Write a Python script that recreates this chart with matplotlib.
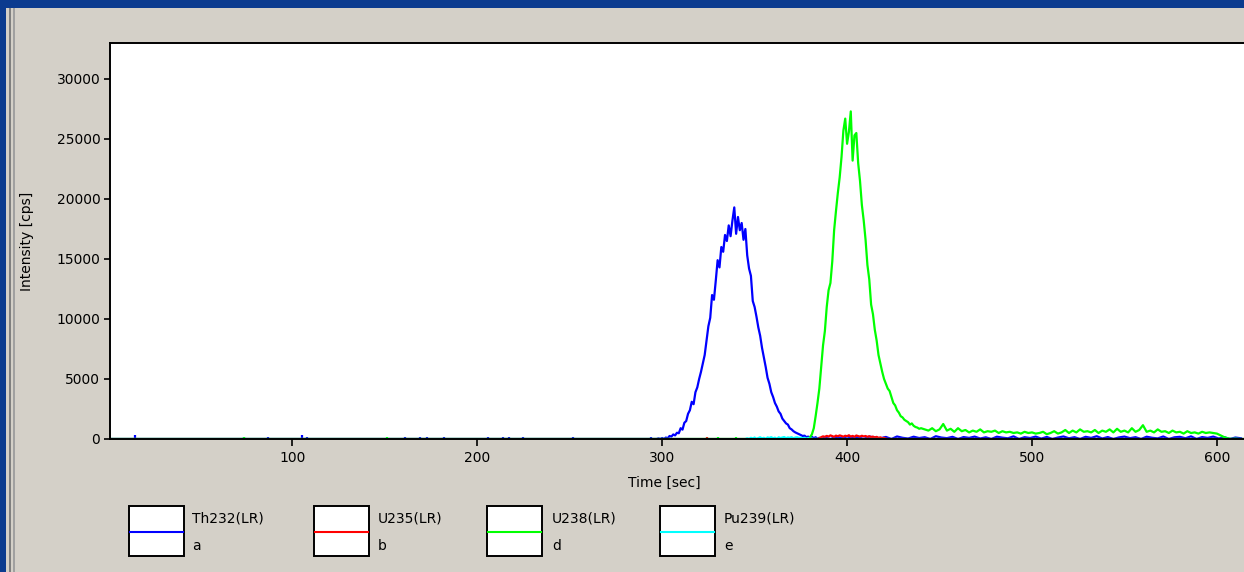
import numpy as np
import matplotlib
matplotlib.use("Agg")
import matplotlib.pyplot as plt
from matplotlib.patches import Rectangle
from matplotlib.lines import Line2D

W, H = 1244, 572

# --- data (time in s, intensity in cps) ---
# Th232: peak region sampled every 1 s from 296 s, then baseline every 3 s from 388 s
th232_peak_start = 296
th232_peak = [0, 0, 50, 0, 80, 0, 120, 60, 250, 200, 380, 300, 520, 480, 900, 780,
              1350, 1500, 2100, 2400, 3100, 2900, 3900, 4300, 5000, 5600, 6300, 7000,
              8200, 9400, 10100, 12000, 11600, 13200, 14900, 14300, 16000, 15600, 17000,
              16500, 17800, 16900, 18200, 19300, 17100, 18500, 17400, 18000, 16600, 17500,
              15300, 14200, 13600, 11500, 11000, 10200, 9300, 8600, 7600, 6800, 6000, 5100,
              4600, 3900, 3500, 3000, 2700, 2300, 2100, 1700, 1500, 1300, 1200, 900, 800,
              650, 550, 480, 400, 330, 250, 280, 150, 200, 100, 180, 60, 150, 0, 100, 0]
th232_tail_start = 388
th232_tail = [120, 0, 180, 60, 220, 90, 150, 0, 200, 130, 60, 170, 0, 210, 100, 40,
              190, 80, 150, 0, 230, 120, 70, 180, 0, 160, 90, 200, 40, 140, 0, 190, 110,
              60, 220, 0, 150, 80, 200, 30, 170, 0, 120, 210, 60, 150, 0, 180, 90, 230,
              40, 160, 0, 130, 200, 70, 150, 0, 190, 100, 50, 210, 0, 140, 180, 60, 220,
              0, 160, 90, 200, 40, 150, 0, 120, 60]
th232_spike_t = [15, 74, 87, 105, 108, 161, 169, 173, 182, 206, 214, 217, 225, 241, 252, 285, 294]
th232_spike_v = [350, 200, 150, 350, 200, 150, 180, 150, 150, 150, 180, 150, 150, 120, 150, 120, 150]

# U235: small hump next to U238
u235_start = 384
u235 = [0, 60, 150, 220, 180, 260, 200, 300, 240, 180, 280, 220, 300, 250, 190, 270,
        230, 310, 200, 260, 180, 290, 240, 200, 270, 210, 250, 180, 230, 160, 200, 120,
        180, 90, 140, 60, 100, 30, 0]
u235_spike_t = [324, 341]
u235_spike_v = [200, 100]

# U238: main peak every 1 s from 378 s, long tail every 2 s from 442 s
u238_peak_start = 378
u238_peak = [0, 60, 150, 400, 900, 1900, 3000, 4200, 6000, 7800, 9000, 11000, 12400,
             13000, 14800, 17400, 19000, 20500, 21800, 23500, 25700, 26700, 24600, 25600,
             27300, 23200, 25300, 25500, 23000, 21500, 19500, 18200, 16600, 14500, 13300,
             11200, 10400, 9100, 8200, 7000, 6300, 5600, 5000, 4600, 4200, 4000, 3500,
             3000, 2800, 2400, 2200, 1900, 1800, 1600, 1500, 1400, 1200, 1300, 1100, 1000,
             950, 850, 900]
u238_tail_start = 442
u238_tail = [800, 700, 900, 650, 800, 1250, 700, 850, 600, 900, 650, 750, 550, 700, 600,
             800, 550, 650, 600, 700, 500, 650, 550, 600, 500, 550, 450, 600, 500, 550,
             450, 500, 600, 400, 500, 650, 450, 550, 750, 500, 700, 550, 800, 600, 650,
             550, 750, 500, 700, 600, 800, 550, 850, 600, 700, 550, 900, 600, 750, 1150,
             600, 700, 550, 800, 600, 650, 500, 700, 550, 600, 450, 650, 500, 550, 450,
             600, 500, 550, 500, 450, 300, 150, 50, 0, 30, 0, 0]
u238_spike_t = [74, 151, 330, 340, 352, 355]
u238_spike_v = [200, 200, 150, 150, 100, 100]

# Pu239: barely above baseline
pu239_start = 345
pu239 = [0, 60, 0, 100, 40, 120, 0, 80, 140, 50, 100, 0, 130, 90, 150, 60, 110, 0, 140,
         80, 120, 160, 70, 130, 100, 150, 60, 120, 140, 90, 110, 60, 100, 30, 80, 0, 40,
         0, 20, 0]

names = ["Th232(LR)", "U235(LR)", "U238(LR)", "Pu239(LR)"]
codes = ["a", "b", "d", "e"]
colors = ["#0000ff", "#ff0000", "#00ff00", "#00ffff"]


def series(start, values, step=1):
  t = start + step * np.arange(len(values))
  return t, np.asarray(values, dtype=float)


def px(x, y):
  return x / W, 1 - y / H


bg = "#d4d0c8"
fig = plt.figure(figsize=(W / 100, H / 100), dpi=100, facecolor=bg)

# window frame
frame = fig.add_axes([0, 0, 1, 1], zorder=-5)
frame.set_xlim(0, W)
frame.set_ylim(H, 0)
frame.axis("off")
frame.add_patch(Rectangle((0, 0), W, 8, color="#0b3b8f", lw=0))
frame.add_patch(Rectangle((0, 0), 6, H, color="#0b3b8f", lw=0))
frame.add_patch(Rectangle((9, 8), 2, H, color="#808080", lw=0))
frame.add_patch(Rectangle((13, 8), 1.5, H, color="#a0a0a0", lw=0))

# plot area: left 110, top 43, bottom 439 px, running off the right edge
l, b = px(110, 439)
_, t = px(110, 43)
ax = fig.add_axes([l, b, 1 - l + 0.002, t - b], facecolor="white")

th_t1, th_v1 = series(th232_peak_start, th232_peak)
th_t2, th_v2 = series(th232_tail_start, th232_tail, 3)
th_t = np.concatenate([[0], th_t1, th_t2])
th_v = np.concatenate([[0], th_v1, th_v2])

u5_t, u5_v = series(u235_start, u235)
u5_t = np.concatenate([[0], u5_t, [616]])
u5_v = np.concatenate([[0], u5_v, [0]])

u8_t1, u8_v1 = series(u238_peak_start, u238_peak)
u8_t2, u8_v2 = series(u238_tail_start, u238_tail, 2)
u8_t = np.concatenate([[0], u8_t1, u8_t2])
u8_v = np.concatenate([[0], u8_v1, u8_v2])

pu_t, pu_v = series(pu239_start, pu239)
pu_t = np.concatenate([[0], pu_t, [616]])
pu_v = np.concatenate([[0], pu_v, [0]])

lw = 1.6
ax.plot(th_t, th_v, color=colors[0], lw=lw)
ax.vlines(th232_spike_t, 0, th232_spike_v, color=colors[0], lw=1.6)
ax.plot(u5_t, u5_v, color=colors[1], lw=lw)
ax.vlines(u235_spike_t, 0, u235_spike_v, color=colors[1], lw=1.6)
ax.plot(u8_t, u8_v, color=colors[2], lw=lw)
ax.vlines(u238_spike_t, 0, u238_spike_v, color=colors[2], lw=1.6)
ax.plot(pu_t, pu_v, color=colors[3], lw=lw)

ax.set_xlim(1.4, 616)
ax.set_ylim(0, 33000)
ax.set_xticks([100, 200, 300, 400, 500, 600])
ax.set_yticks(np.arange(0, 30001, 5000))
ax.tick_params(direction="out", length=4, width=1.2, colors="black",
               labelsize=10, pad=3)
ax.tick_params(axis="x", length=5, pad=4)
for side in ["top", "left", "bottom"]:
  ax.spines[side].set_linewidth(1.4)
  ax.spines[side].set_color("black")
  ax.spines[side].set_zorder(5)
ax.spines["right"].set_visible(False)

x0, y0 = px(664, 483)
fig.text(x0, y0, "Time [sec]", ha="center", va="center", fontsize=10)
x0, y0 = px(27, 241)
fig.text(x0, y0, "Intensity [cps]", ha="center", va="center", rotation=90, fontsize=10)

# legend boxes below the plot
box_x = [129, 314, 487, 660]
text_x = [192, 378, 552, 724]
for bx, tx, name, code, c in zip(box_x, text_x, names, codes, colors):
  frame.add_patch(Rectangle((bx, 506), 55, 50, facecolor="white",
                            edgecolor="black", lw=1.4))
  frame.add_line(Line2D([bx + 1, bx + 54], [532, 532], color=c, lw=1.5))
  frame.text(tx, 519, name, ha="left", va="center", fontsize=10)
  frame.text(tx, 546, code, ha="left", va="center", fontsize=10)

fig.savefig("out.png", dpi=100, facecolor=bg)
